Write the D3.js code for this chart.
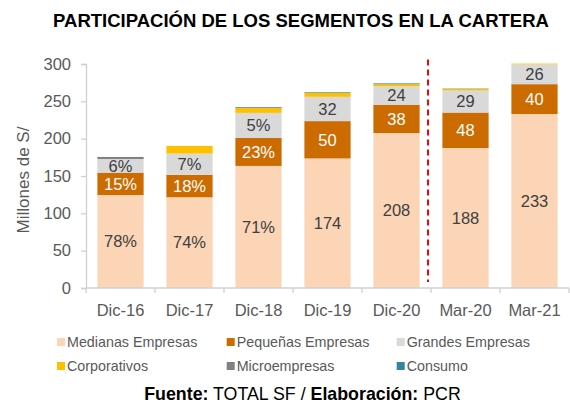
<!DOCTYPE html>
<html>
<head>
<meta charset="utf-8">
<script src="https://cdn.jsdelivr.net/npm/d3@7"></script>
<style>
  html, body { margin: 0; padding: 0; background: #fff; }
  svg { display: block; font-family: "Liberation Sans", Arial, sans-serif; }
</style>
</head>
<body>
<svg id="chart" width="570" height="403"></svg>
<script>
// ---- Data ----
const categories = ["Dic-16", "Dic-17", "Dic-18", "Dic-19", "Dic-20", "Mar-20", "Mar-21"];
const medianas     = [124.5, 121.5, 163.5, 173.5, 207.5, 187.5, 233];
const pequenas     = [30, 30, 37.5, 50, 38, 47.5, 40];
const grandes      = [18.3, 28.5, 33.5, 32.5, 24.5, 29.5, 26.5];
const corporativos = [0, 10.3, 6.5, 5.5, 3, 2, 1];
const microempresas = [2.7, 0, 0.6, 0, 0, 0, 0];
const consumo      = [0, 0, 0.8, 0.8, 1, 0.5, 0];
const medLabels = ["78%", "74%", "71%", "174", "208", "188", "233"];
const peqLabels = ["15%", "18%", "23%", "50", "38", "48", "40"];
const graLabels = ["6%", "7%", "5%", "32", "24", "29", "26"];
const yTicks = [0, 50, 100, 150, 200, 250, 300];
const seriesNames = ["Medianas Empresas", "Pequeñas Empresas", "Grandes Empresas", "Corporativos", "Microempresas", "Consumo"];
const seriesColors = ["#FBD5B5", "#CC6C00", "#D9D9D9", "#FFC000", "#808080", "#31859C"];
const seriesValues = [medianas, pequenas, grandes, corporativos, microempresas, consumo];
const seriesLabels = [medLabels, peqLabels, graLabels, null, null, null];
const labelColors = ["#404040", "#ffffff", "#404040", null, null, null];
const dividerBefore = "Mar-20";

// ---- Layout ----
const svg = d3.select("#chart");
const plot = { left: 86, right: 569, top: 64, bottom: 288 };

const x = d3.scaleBand()
  .domain(categories)
  .range([plot.left, plot.right])
  .paddingInner(0.33)
  .paddingOuter(0.165);

const y = d3.scaleLinear().domain([0, 300]).range([plot.bottom, plot.top]);

// Build stacked table
const table = categories.map((c, i) => {
  const row = { cat: c };
  seriesNames.forEach((s, k) => { row[s] = seriesValues[k][i]; });
  return row;
});
const stack = d3.stack().keys(seriesNames)(table);

// Title
svg.append("text")
  .attr("x", 301).attr("y", 26.5)
  .attr("text-anchor", "middle")
  .attr("font-size", "18.5px").attr("font-weight", "bold").attr("fill", "#000")
  .text("PARTICIPACIÓN DE LOS SEGMENTOS EN LA CARTERA");

// Bars
const layers = svg.append("g").selectAll("g")
  .data(stack).join("g")
  .attr("fill", (d, k) => seriesColors[k]);

layers.selectAll("rect")
  .data(d => d).join("rect")
  .attr("x", d => x(d.data.cat))
  .attr("width", x.bandwidth())
  .attr("y", d => y(d[1]))
  .attr("height", d => Math.max(0, y(d[0]) - y(d[1])));

// Segment labels
stack.forEach((layer, k) => {
  const labs = seriesLabels[k];
  if (!labs) return;
  svg.append("g").selectAll("text")
    .data(layer).join("text")
    .attr("x", d => x(d.data.cat) + x.bandwidth() / 2)
    .attr("y", d => y((d[0] + d[1]) / 2))
    .attr("dy", "0.35em")
    .attr("text-anchor", "middle")
    .attr("font-size", "16.5px")
    .attr("fill", labelColors[k])
    .text((d, i) => labs[i]);
});

// Y axis
const yAxis = svg.append("g")
  .attr("transform", `translate(${plot.left},0)`)
  .call(d3.axisLeft(y).tickValues(yTicks).tickSize(5).tickPadding(10));
yAxis.selectAll("path, line").attr("stroke", "#d0d0d0").attr("stroke-width", 1.3);
yAxis.selectAll("text").attr("font-size", "16.5px").attr("fill", "#595959")
  .attr("font-family", "Liberation Sans, Arial, sans-serif");

// X axis
const xAxis = svg.append("g")
  .attr("transform", `translate(0,${plot.bottom})`)
  .call(d3.axisBottom(x).tickSize(0).tickPadding(16.5));
xAxis.selectAll("path").attr("stroke", "#d0d0d0").attr("stroke-width", 1.3)
  .attr("d", `M${plot.left},0H${plot.right}`);
xAxis.selectAll("text").attr("font-size", "16.5px").attr("fill", "#595959")
  .attr("font-family", "Liberation Sans, Arial, sans-serif");
const gap = x.step() * x.paddingInner() / 2;
const boundaries = categories.map(c => x(c) - gap).concat([x(categories[categories.length - 1]) + x.bandwidth() + gap]);
xAxis.append("g").selectAll("line")
  .data(boundaries).join("line")
  .attr("x1", d => d).attr("x2", d => d)
  .attr("y1", 0).attr("y2", 5)
  .attr("stroke", "#d0d0d0").attr("stroke-width", 1.3);

// Y axis title
svg.append("text")
  .attr("transform", `translate(28.5,180) rotate(-90)`)
  .attr("text-anchor", "middle")
  .attr("font-size", "17px").attr("fill", "#595959")
  .text("Millones de S/");

// Dashed divider
const divX = x(dividerBefore) - gap - 3;
svg.append("line")
  .attr("x1", divX).attr("x2", divX)
  .attr("y1", y(306)).attr("y2", y(8))
  .attr("stroke", "#FF0000").attr("stroke-width", 2)
  .attr("stroke-dasharray", "6,4");

// Legend
const legCols = [57, 226.7, 396.7];
const legRows = [342, 366];
const legend = svg.append("g").selectAll("g")
  .data(seriesNames).join("g")
  .attr("transform", (d, i) => `translate(${legCols[i % 3]},${legRows[Math.floor(i / 3)]})`);
legend.append("rect")
  .attr("x", 0).attr("y", -4).attr("width", 8).attr("height", 8)
  .attr("fill", (d, i) => seriesColors[i]);
legend.append("text")
  .attr("x", 10).attr("y", 0).attr("dy", "0.35em")
  .attr("font-size", "14.3px").attr("fill", "#595959")
  .text(d => d);

// Footer
const foot = svg.append("text")
  .attr("x", 302.5).attr("y", 400)
  .attr("text-anchor", "middle")
  .attr("font-size", "17.8px").attr("fill", "#000");
foot.append("tspan").attr("font-weight", "bold").text("Fuente:");
foot.append("tspan").text(" TOTAL SF / ");
foot.append("tspan").attr("font-weight", "bold").text("Elaboración:");
foot.append("tspan").text(" PCR");
</script>
</body>
</html>
